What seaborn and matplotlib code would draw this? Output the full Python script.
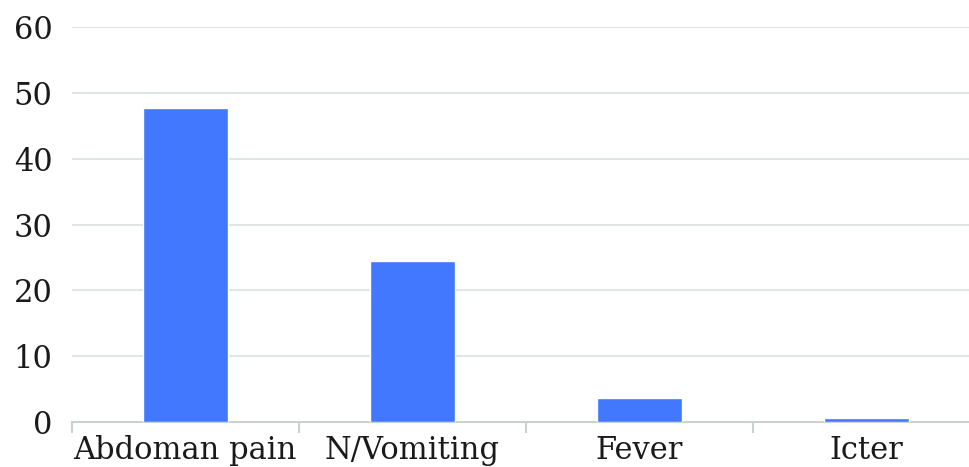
import pandas as pd
import seaborn as sns
import matplotlib.pyplot as plt

# Symptom counts
symptoms = ['Abdoman pain', 'N/Vomiting', 'Fever', 'Icter']
counts = [47.7, 24.5, 3.6, 0.6]
yticks = [0, 10, 20, 30, 40, 50, 60]

df = pd.DataFrame({'symptom': symptoms, 'count': counts})

sns.set_style('white')
plt.rcParams['font.family'] = ['DejaVu Serif']

fig = plt.figure(figsize=(9.7, 4.67), dpi=100)
# axes runs slightly past the right edge, as in the original
ax = fig.add_axes([0.074, 0.096, 0.936, 0.846])

sns.barplot(data=df, x='symptom', y='count', color='#4178fe', width=0.375,
            saturation=1, ax=ax, zorder=3)

ax.set_ylim(0, 60)
ax.set_xlim(-0.5, 3.5)
ax.set_yticks(yticks)
ax.set_xlabel('')
ax.set_ylabel('')

# light horizontal gridlines
for y in yticks[1:]:
    ax.axhline(y, color='#e1e5e5', lw=1.5, zorder=1)

for side in ['top', 'right', 'left']:
    ax.spines[side].set_visible(False)
ax.spines['bottom'].set_color('#c9d1d1')
ax.spines['bottom'].set_linewidth(1.5)

# category boundary ticks on the x axis
ax.set_xticks([-0.5, 0.5, 1.5, 2.5], minor=True)
ax.tick_params(axis='x', which='minor', bottom=True, length=8, color='#c9d1d1', width=1.5)
ax.tick_params(axis='x', which='major', length=0, pad=9, labelsize=22, labelcolor='#1a1a1a')
ax.tick_params(axis='y', length=0, pad=14, labelsize=22, labelcolor='#1a1a1a')

fig.savefig('out.png', dpi=100)
